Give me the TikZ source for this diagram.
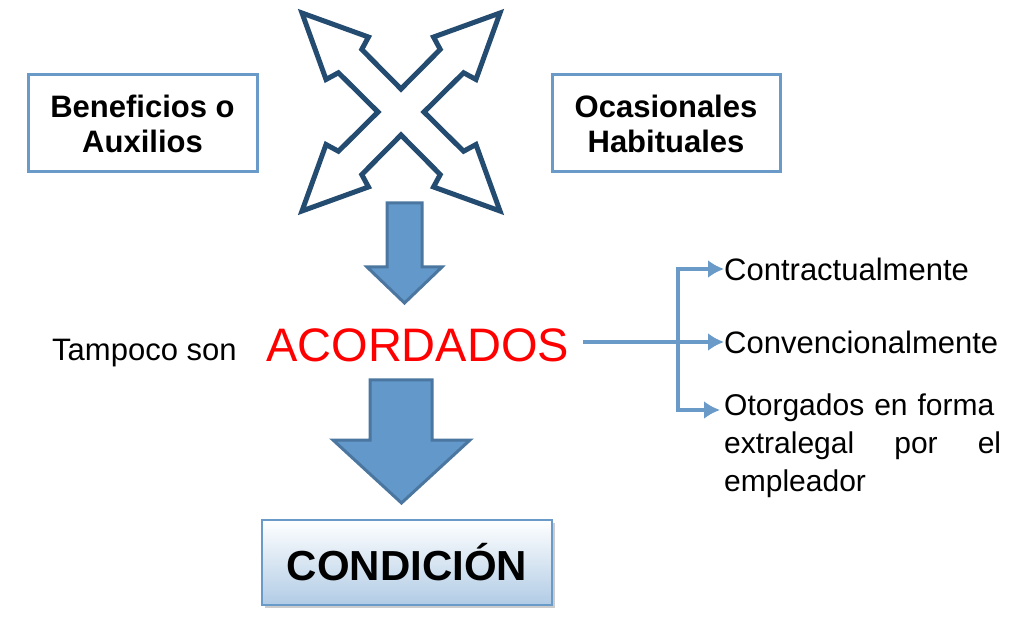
\documentclass[tikz,border=0pt]{standalone}
\usepackage{fontspec}
\setmainfont{Liberation Sans}
\usetikzlibrary{calc,shadows,arrows.meta}
\definecolor{dk}{HTML}{244B70}
\definecolor{lb}{HTML}{6A9AC8}
\definecolor{af}{HTML}{6398CB}
\definecolor{ab}{HTML}{4A76A0}
\tikzset{
 sbox/.style={draw=lb,line width=3pt,fill=white,align=center,font=\fontsize{31}{35}\selectfont\bfseries},
 bigarr/.style={fill=af,draw=ab,line width=3pt,line join=miter},
 conn/.style={draw=lb,line width=4pt,-{Latex[length=16pt,width=18pt]}},
 lab/.style={anchor=west,font=\fontsize{31}{37}\selectfont,inner sep=0pt}
}
\begin{document}
\begin{tikzpicture}[x=1pt,y=1pt]
\useasboundingbox (0,0) rectangle (1028,619);
\coordinate (c) at (401,507);
\draw[dk,line width=5pt,line join=miter,fill=white] ($(c)+(0:23)$)
 \foreach \t in {45,135,225,315}{
  -- ($(c)+(\t:72)+(\t-90:16.5)$) -- ($(c)+(\t:76)+(\t-90:30)$) -- ($(c)+(\t:140)$) -- ($(c)+(\t:76)+(\t+90:30)$) -- ($(c)+(\t:72)+(\t+90:16.5)$) -- ($(c)+(\t+45:23)$) }
 -- cycle;
\node[sbox,minimum width=229,minimum height=97] (b1) at (142.5,495.5) {Beneficios o\\Auxilios};
\node[sbox,minimum width=228,minimum height=97] (b2) at (666,495.5) {Ocasionales\\Habituales};
\draw[bigarr] (387,416) -- (422,416) -- (422,352) -- (442,352) -- (404.5,316) -- (367,352) -- (387,352) -- cycle;
\node[anchor=west,inner sep=0pt,font=\fontsize{31}{36}\selectfont] (t) at (52,266) {Tampoco son};
\node[anchor=west,inner sep=0pt,text=red,font=\fontsize{47}{56}\selectfont] (ac) at (266,274) {ACORDADOS};
\draw[bigarr] (370,239) -- (432,239) -- (432,179) -- (470,179) -- (401.5,116) -- (333,179) -- (370,179) -- cycle;
\node[draw=lb,line width=2pt,top color=white,bottom color=af!50,minimum width=290,minimum height=85,
 drop shadow={shadow xshift=3pt,shadow yshift=-3pt,opacity=0.4},font=\fontsize{42}{48}\selectfont\bfseries] (cond) at (407,56.5) {CONDICIÓN};
\node[lab] (l1) at (724,350) {Contractualmente};
\node[lab] (l2) at (724,277) {Convencionalmente};
\node[lab,anchor=north west,text width=277,align=left,font=\fontsize{30}{38}\selectfont] (l3) at (724,225) {Otorgados en forma\\extralegal\hfill por\hfill el\\empleador};
\coordinate (s) at (583,277);
\coordinate (j) at (678,277);
\coordinate (x3) at (720,209);
\draw[conn] (s) -- (l2.west);
\draw[conn] (j) |- (x3);
\draw[conn] (j) |- (l1.west);
\end{tikzpicture}
\end{document}
